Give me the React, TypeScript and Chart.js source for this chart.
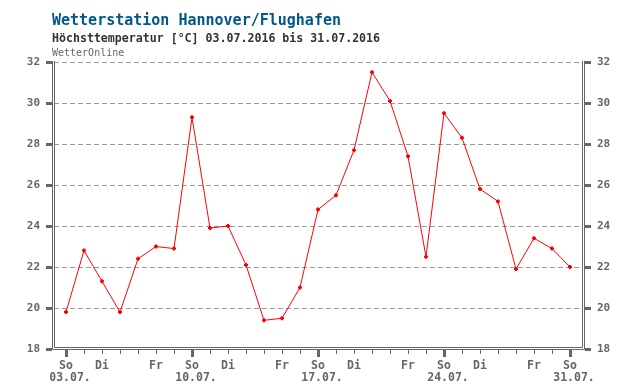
import React, { useEffect, useRef } from "react";
import { Chart, registerables } from "chart.js";

Chart.register(...registerables);

const TITLE = "Wetterstation Hannover/Flughafen";
const SUBTITLE = "Höchsttemperatur [°C] 03.07.2016 bis 31.07.2016";
const SOURCE = "WetterOnline";

const DATES = [
  "03.07.", "04.07.", "05.07.", "06.07.", "07.07.", "08.07.", "09.07.",
  "10.07.", "11.07.", "12.07.", "13.07.", "14.07.", "15.07.", "16.07.",
  "17.07.", "18.07.", "19.07.", "20.07.", "21.07.", "22.07.", "23.07.",
  "24.07.", "25.07.", "26.07.", "27.07.", "28.07.", "29.07.", "30.07.",
  "31.07.",
];
const WEEKDAYS = ["So", "Mo", "Di", "Mi", "Do", "Fr", "Sa"];
const SHOWN_WEEKDAYS = ["So", "Di", "Fr"];
const TEMPS = [
  19.8, 22.8, 21.3, 19.8, 22.4, 23.0, 22.9, 29.3, 23.9, 24.0, 22.1, 19.4, 19.5,
  21.0, 24.8, 25.5, 27.7, 31.5, 30.1, 27.4, 22.5, 29.5, 28.3, 25.8, 25.2, 21.9,
  23.4, 22.9, 22.0,
];
const Y_MIN = 18;
const Y_MAX = 32;
const Y_STEP = 2;

const MONO = '"DejaVu Sans Mono", monospace';
const GRAY = "#666666";

const dayIndex = (value: any) => {
  const v = Number(value);
  const i = Math.round(v);
  if (i < 0 || i >= DATES.length || Math.abs(v - i) > 1e-6) return -1;
  return i;
};

const framePlugin = {
  id: "frame",
  afterDraw(chart: any) {
    const { ctx, chartArea: a, scales } = chart;
    const L = Math.round(a.left);
    const R = Math.round(a.right);
    const B = Math.round(a.bottom);
    const T = Math.round(a.top);
    ctx.save();
    ctx.strokeStyle = GRAY;
    ctx.lineWidth = 1;
    const line = (x1: number, y1: number, x2: number, y2: number) => {
      ctx.beginPath();
      ctx.moveTo(x1, y1);
      ctx.lineTo(x2, y2);
      ctx.stroke();
    };
    // inner frame
    line(L + 0.5, T - 1, L + 0.5, B - 1.5);
    line(L + 0.5, B - 1.5, R + 0.5, B - 1.5);
    line(R + 0.5, T - 1, R + 0.5, B - 1.5);
    // outer frame
    line(L - 1.5, T - 1, L - 1.5, B + 0.5);
    line(L - 1.5, B + 0.5, R + 2.5, B + 0.5);
    line(R + 2.5, T - 1, R + 2.5, B + 0.5);

    ctx.fillStyle = GRAY;
    // y tick blocks
    const y = scales.y;
    for (let v = Y_MIN; v <= Y_MAX; v += Y_STEP) {
      const py = Math.round(y.getPixelForValue(v));
      ctx.fillRect(L - 8, py - 1, 6, 3);
      ctx.fillRect(R + 3, py - 1, 6, 3);
    }
    // x tick marks
    const x = scales.x;
    for (let i = 0; i < DATES.length; i++) {
      const px = Math.round(x.getPixelForValue(i));
      if (WEEKDAYS[i % 7] === "So") {
        ctx.fillRect(px - 1, B + 1, 3, 7);
      } else {
        ctx.fillRect(px, B + 1, 1, 4);
      }
    }

    // titles
    ctx.textAlign = "left";
    ctx.textBaseline = "alphabetic";
    ctx.fillStyle = "#00578a";
    ctx.font = `bold 15px ${MONO}`;
    ctx.fillText(TITLE, 52, 25);
    ctx.fillStyle = "#333333";
    ctx.font = `bold 11.6px ${MONO}`;
    ctx.fillText(SUBTITLE, 52, 41.5);
    ctx.fillStyle = GRAY;
    ctx.font = `10px ${MONO}`;
    ctx.fillText(SOURCE, 52, 55.5);
    ctx.restore();
  },
};

export default function App() {
  const canvasRef = useRef<HTMLCanvasElement | null>(null);

  useEffect(() => {
    const canvas = canvasRef.current;
    if (!canvas) return;
    const tickFont = { family: MONO, size: 11, weight: "bold" as const };
    const xFont = { family: MONO, size: 11.5, weight: "bold" as const, lineHeight: "12px" };
    const xMin = -2 / 3;
    const xMax = DATES.length - 1 + 2 / 3;
    const chart = new Chart(canvas, {
      type: "line",
      data: {
        datasets: [
          {
            data: TEMPS.map((t, i) => ({ x: i, y: t })),
            borderColor: "#ff0000",
            backgroundColor: "#ff0000",
            borderWidth: 1,
            pointStyle: "cross",
            pointRadius: 2,
            pointBorderWidth: 2,
            pointBorderColor: "#ff0000",
            tension: 0,
            fill: false,
          },
        ],
      },
      options: {
        responsive: false,
        animation: false,
        layout: { padding: { top: 62, left: 0, right: 0, bottom: 0 } },
        plugins: {
          legend: { display: false },
          tooltip: { enabled: false },
          title: { display: false },
        },
        scales: {
          x: {
            type: "linear",
            position: "bottom",
            weight: 0,
            min: xMin,
            max: xMax,
            afterFit: (s: any) => {
              s.height = 22;
            },
            grid: { display: false, drawTicks: false },
            border: { display: false },
            ticks: {
              stepSize: 1,
              autoSkip: false,
              maxRotation: 0,
              minRotation: 0,
              includeBounds: false,
              padding: 11,
              color: GRAY,
              font: xFont,
              callback: (value: any) => {
                const i = dayIndex(value);
                if (i < 0) return "";
                const wd = WEEKDAYS[i % 7];
                return SHOWN_WEEKDAYS.includes(wd) ? wd : "";
              },
            },
          },
          x2: {
            type: "linear",
            position: "bottom",
            weight: 1,
            min: xMin,
            max: xMax,
            afterFit: (s: any) => {
              s.height = 19;
            },
            grid: { display: false, drawTicks: false },
            border: { display: false },
            ticks: {
              stepSize: 1,
              autoSkip: false,
              maxRotation: 0,
              minRotation: 0,
              includeBounds: false,
              padding: 1,
              labelOffset: 4,
              color: GRAY,
              font: xFont,
              callback: (value: any) => {
                const i = dayIndex(value);
                if (i < 0) return "";
                return WEEKDAYS[i % 7] === "So" ? DATES[i] : "";
              },
            },
          },
          y: {
            type: "linear",
            position: "left",
            min: Y_MIN,
            max: Y_MAX,
            afterFit: (s: any) => {
              s.width = 54;
            },
            grid: { color: "#999999", lineWidth: 1, drawTicks: false },
            border: { display: false, dash: [5, 3] },
            ticks: { stepSize: Y_STEP, padding: 14, color: GRAY, font: tickFont },
          },
          y2: {
            type: "linear",
            position: "right",
            min: Y_MIN,
            max: Y_MAX,
            afterFit: (s: any) => {
              s.width = 58;
            },
            grid: { drawOnChartArea: false, drawTicks: false },
            border: { display: false },
            ticks: { stepSize: Y_STEP, padding: 15, color: GRAY, font: tickFont },
          },
        },
      },
      plugins: [framePlugin],
    });
    return () => chart.destroy();
  }, []);

  return (
    <div style={{ position: "absolute", left: 0, top: 0, width: 640, height: 390, background: "#fff" }}>
      <canvas ref={canvasRef} width={640} height={390} style={{ display: "block" }} />
    </div>
  );
}
